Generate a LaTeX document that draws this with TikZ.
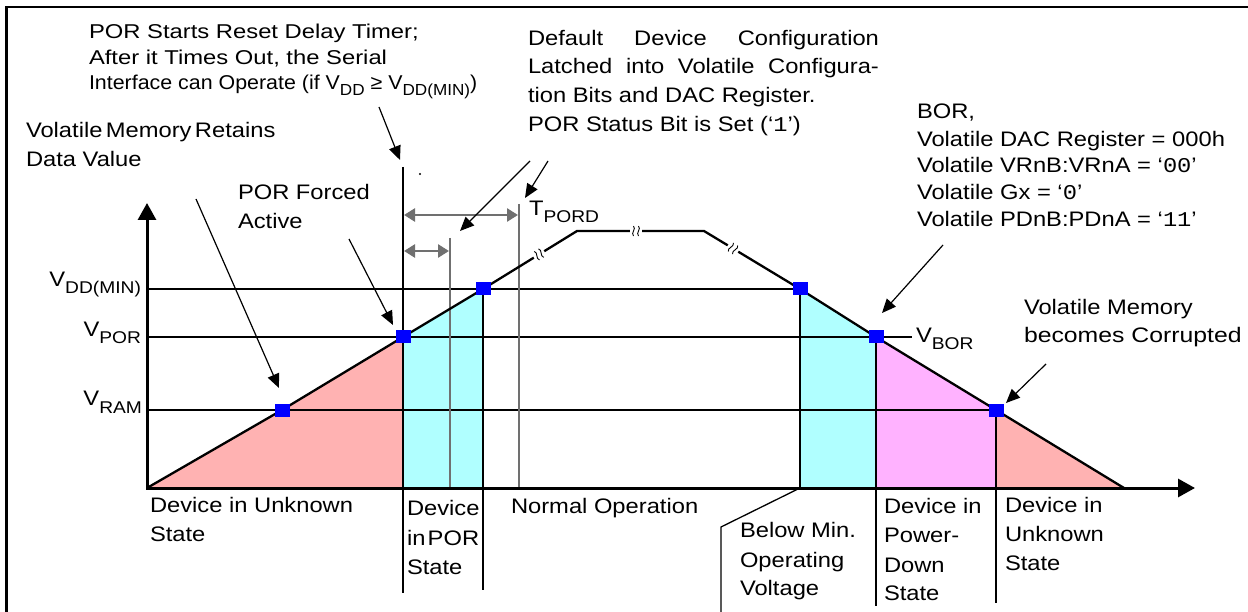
\documentclass[tikz,border=0pt]{standalone}
\usepackage{fontspec}
\setmainfont{Liberation Sans}
\setmonofont{Liberation Mono}
\usetikzlibrary{arrows.meta,calc}
\definecolor{pinkf}{RGB}{255,178,178}
\definecolor{cyanf}{RGB}{176,255,255}
\definecolor{magf}{RGB}{255,178,255}
\definecolor{sqblue}{RGB}{0,0,255}
\definecolor{grayc}{RGB}{112,112,112}
\newcommand\sbs[1]{\raisebox{-7pt}{\fontsize{17}{17}\selectfont #1}}
\newcommand\sbsa[1]{\raisebox{-6pt}{\fontsize{16}{16}\selectfont #1}}
\begin{document}
\begin{tikzpicture}[x=1pt,y=-1pt,
  tb/.style={inner sep=0pt, outer sep=0pt, anchor=base west, font=\fontsize{21}{25}\selectfont},
  txt/.style={tb, xscale=1.13},
  txtr/.style={tb, anchor=base east, xscale=1.13},
  txtA/.style={tb, font=\fontsize{20}{24}\selectfont, xscale=1.19},
  sq/.style={fill=sqblue, draw=none, minimum width=15pt, minimum height=13pt, inner sep=0pt, outer sep=0pt},
  gridln/.style={line width=2pt},
  vln/.style={line width=1.8pt},
  axisln/.style={line width=3pt, {Triangle[length=17pt,width=18pt]}-{Triangle[length=17pt,width=18pt]}},
  ptr/.style={line width=1.2pt, -{Triangle[length=14pt,width=12pt]}},
  garr/.style={draw=grayc, line width=2.6pt, {Triangle[length=11pt,width=13pt]}-{Triangle[length=11pt,width=13pt]}},
  gline/.style={draw=grayc, line width=1.6pt},
  ramp/.style={line width=2.3pt, line join=miter},
  brk/.style={line width=0.9pt}
]
\useasboundingbox (0,0) rectangle (1248,612);
% frame
\draw[line width=2.6pt] (1252,7) -- (6.5,7) -- (6.5,616);

% key points
\coordinate (O) at (147,488);
\coordinate (ytip) at (147,203);
\coordinate (xtip) at (1195,488);
\coordinate (r1) at (282,410);
\coordinate (r2) at (403,337);
\coordinate (r3) at (483,289);
\coordinate (p1) at (577,231);
\coordinate (p2) at (704,231);
\coordinate (f1) at (800,289);
\coordinate (f2) at (876,337);
\coordinate (f3) at (996,410);
\coordinate (fe) at (1124,488);

% fills
\fill[pinkf] (O) -- (r1) -- (r2) -- (403,488) -- cycle;
\fill[cyanf] (403,488) -- (r2) -- (r3) -- (483,488) -- cycle;
\fill[cyanf] (800,488) -- (f1) -- (f2) -- (876,488) -- cycle;
\fill[magf] (876,488) -- (f2) -- (f3) -- (996,488) -- cycle;
\fill[pinkf] (996,488) -- (f3) -- (fe) -- cycle;

% horizontal level lines
\coordinate (hdd) at (147,289);
\coordinate (hpor) at (147,337);
\coordinate (hram) at (147,410);
\coordinate (hbor) at (912,337);
\draw[gridln] (hdd) -- (f1);
\draw[gridln] (hpor) -- (hbor);
\draw[gridln] (hram) -- (f3);

% vertical lines
\coordinate (v1t) at (403,167);
\coordinate (v1b) at (403,593);
\coordinate (v2b) at (483,590);
\coordinate (v3b) at (800,488);
\coordinate (ld1) at (721,527);
\coordinate (ld2) at (721,614);
\coordinate (v4b) at (876,606);
\coordinate (v5b) at (996,603);
\coordinate (g1t) at (450,238);
\coordinate (g1b) at (450,488);
\coordinate (g2t) at (519,204);
\coordinate (g2b) at (519,488);
\draw[vln] (v1t) -- (v1b);
\draw[vln] (r3) -- (v2b);
\draw[vln] (f1) -- (v3b);
\draw[line width=1.3pt] (v3b) -- (ld1) -- (ld2);
\draw[vln] (f2) -- (v4b);
\draw[vln] (f3) -- (v5b);
\draw[gline] (g1t) -- (g1b);
\draw[gline] (g2t) -- (g2b);

% gray double arrows
\coordinate (da1) at (404,215);
\coordinate (da2) at (518,215);
\coordinate (db1) at (404,251);
\coordinate (db2) at (449,251);
\draw[garr] (da1) -- (da2);
\draw[garr] (db1) -- (db2);

% ramp
\draw[ramp] (O) -- (r1) -- (r2) -- (r3) -- (p1) -- (p2) -- (f1) -- (f2) -- (f3) -- (fe);
% break marks
\foreach \px/\py/\ang in {539/254.4/31.7, 636/231/0, 733/248.5/-31.1}{
  \begin{scope}[shift={(\px,\py)}, rotate=\ang]
    \draw[white, line width=5pt] (-6,0) -- (6,0);
    \draw[brk] (-2.5,-5) .. controls (0.5,-2) and (-5.5,2) .. (-2.5,5);
    \draw[brk] (2.5,-5) .. controls (5.5,-2) and (-0.5,2) .. (2.5,5);
  \end{scope}
}

% axes
\draw[axisln] (ytip) -- (O) -- (xtip);

% blue squares
\node[sq] (s1) at (r1) {};
\node[sq] (s2) at (r2) {};
\node[sq] (s3) at (r3) {};
\node[sq] (s4) at (f1) {};
\node[sq] (s5) at (f2) {};
\node[sq] (s6) at (f3) {};

% small dot
\fill (420,174) circle (1.2pt);

% pointer arrows
\coordinate (a1s) at (379,107); \coordinate (a1t) at (400,160);
\coordinate (a2s) at (196,199); \coordinate (a2t) at (279,388);
\coordinate (a3s) at (349,239); \coordinate (a3t) at (393,325);
\coordinate (a4s) at (530,161); \coordinate (a4t) at (460,231);
\coordinate (a5s) at (548,161); \coordinate (a5t) at (525,198);
\coordinate (a6s) at (943,245); \coordinate (a6t) at (882,313);
\coordinate (a7s) at (1046,364); \coordinate (a7t) at (1006,403);
\draw[ptr] (a1s) -- (a1t);
\draw[ptr] (a2s) -- (a2t);
\draw[ptr] (a3s) -- (a3t);
\draw[ptr] (a4s) -- (a4t);
\draw[ptr] (a5s) -- (a5t);
\draw[ptr] (a6s) -- (a6t);
\draw[ptr] (a7s) -- (a7t);

% texts: top-left block
\node[txtA] (t1) at (89,39) {POR Starts Reset Delay Timer;};
\node[txtA] (t2) at (89,65) {After it Times Out, the Serial};
\node[tb, font=\fontsize{20}{24}\selectfont, xscale=1.07] (t3) at (89,90) {Interface can Operate (if V\sbsa{DD} ≥ V\sbsa{DD(MIN)})};

\node[txt] (vm1) at (26,138) {Volatile\hspace{3pt}Memory\hspace{3pt}Retains};
\node[txt] (vm2) at (26,167) {Data Value};
\node[txt] (pf1) at (238,200) {POR Forced};
\node[txt] (pf2) at (238,229) {Active};

% default config block
\node[txt] (dc1) at (528,46) {\makebox[310.6pt][s]{Default Device Configuration}};
\node[txt] (dc2) at (528,74) {\makebox[310.6pt][s]{Latched into Volatile Configura-}};
\node[txt] (dc3) at (528,103) {tion Bits and DAC Register.};
\node[txt] (dc4) at (528,132) {POR Status Bit is Set (‘\texttt{1}’)};
\node[txt] (tpord) at (529,216) {T\sbs{PORD}};

% BOR block
\node[txt] (b1) at (917,119) {BOR,};
\node[txt] (b2) at (917,147) {Volatile DAC Register = 000h};
\node[txt] (b3) at (917,173) {Volatile VRnB:VRnA = ‘\texttt{00}’};
\node[txt] (b4) at (917,200) {Volatile Gx = ‘\texttt{0}’};
\node[txt] (b5) at (917,227) {Volatile PDnB:PDnA = ‘\texttt{11}’};

% level labels
\node[txtr] (lvdd) at (141,287) {V\sbs{DD(MIN)}};
\node[txtr] (lvpor) at (141,337) {V\sbs{POR}};
\node[txtr] (lvram) at (142,406) {V\sbs{RAM}};
\node[txt] (lvbor) at (916,342) {V\sbs{BOR}};

\node[txt] (cm1) at (1024,315) {Volatile Memory};
\node[tb, xscale=1.18] (cm2) at (1024,343) {becomes Corrupted};

% bottom labels
\node[txt] (u1) at (150,512) {Device in Unknown};
\node[txt] (u2) at (150,541) {State};
\node[txt] (ps1) at (407,515) {Device};
\node[txt] (ps2) at (407,545) {in\hspace{2pt}POR};
\node[txt] (ps3) at (407,574) {State};
\node[txt] (no) at (511,513) {Normal Operation};
\node[txt] (bm1) at (740,537) {Below Min.};
\node[txt] (bm2) at (740,567) {Operating};
\node[txt] (bm3) at (740,595) {Voltage};
\node[txt] (pd1) at (884,513) {Device in};
\node[txt] (pd2) at (884,542) {Power-};
\node[txt] (pd3) at (884,572) {Down};
\node[txt] (pd4) at (884,600) {State};
\node[txt] (uk1) at (1005,512) {Device in};
\node[txt] (uk2) at (1005,541) {Unknown};
\node[txt] (uk3) at (1005,570) {State};
\end{tikzpicture}
\end{document}
